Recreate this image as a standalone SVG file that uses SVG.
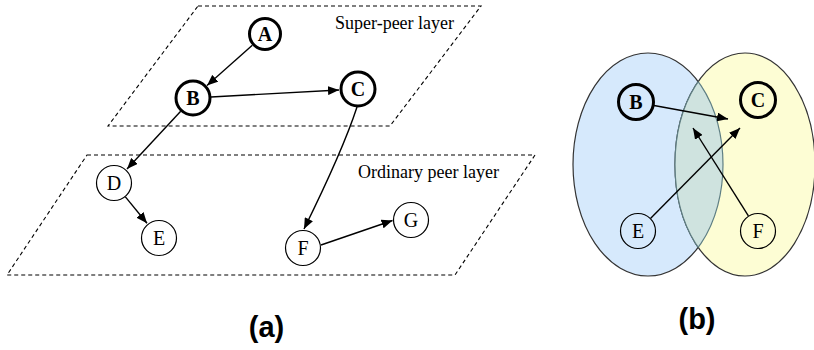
<svg xmlns="http://www.w3.org/2000/svg" width="814" height="350" viewBox="0 0 814 350">
  <style>
    .layer { fill: none; stroke: #000; stroke-width: 1.1; stroke-dasharray: 4 3; }
    .layer-label { font-family: "Liberation Serif", "Times New Roman", serif; font-size: 18px; fill: #000; }
    .super circle { fill: #fff; stroke: #000; stroke-width: 3; }
    .ordinary circle { fill: #fff; stroke: #000; stroke-width: 1.2; }
    .super text, .ordinary text { font-family: "Liberation Serif", "Times New Roman", serif; font-size: 20px; text-anchor: middle; fill: #000; }
    .super text { font-weight: bold; }
    .edge { fill: none; stroke: #000; stroke-width: 1.4; marker-end: url(#arrow); }
    .caption { font-family: "Liberation Sans", Arial, sans-serif; font-weight: bold; font-size: 29px; text-anchor: middle; fill: #000; }
    .venn-b circle { fill: #d6e9fc; }
    .venn-c circle { fill: #fdfdd4; }
  </style>
  <defs>
    <marker id="arrow" markerUnits="userSpaceOnUse" markerWidth="12" markerHeight="9" refX="11" refY="4.5" orient="auto">
      <path d="M0,0 L11,4.5 L0,9 z" fill="#000"/>
    </marker>
    <clipPath id="clip-right">
      <ellipse cx="745" cy="164.5" rx="70" ry="111.5"/>
    </clipPath>
    <clipPath id="clip-left">
      <ellipse cx="648" cy="164.5" rx="75" ry="111.5"/>
    </clipPath>
  </defs>

  <rect width="814" height="350" fill="#fff"/>

  <!-- (a) two peer layers -->
  <g id="super-peer-layer">
    <polygon class="layer" points="198,6 481,6 390,126 108,126"/>
    <text class="layer-label" x="335" y="29">Super-peer layer</text>
  </g>
  <g id="ordinary-peer-layer">
    <polygon class="layer" points="87,155 535,155 455,275 7,275"/>
    <text class="layer-label" x="358" y="178">Ordinary peer layer</text>
  </g>

  <!-- (b) overlapping clusters -->
  <g id="cluster-b">
    <ellipse cx="648" cy="164.5" rx="75" ry="111.5" fill="#d6e9fc" stroke="#333" stroke-width="1.2"/>
  </g>
  <g id="cluster-c">
    <ellipse cx="745" cy="164.5" rx="70" ry="111.5" fill="#fdfdd4" stroke="#333" stroke-width="1.2"/>
  </g>
  <g id="cluster-overlap">
    <ellipse cx="648" cy="164.5" rx="75" ry="111.5" fill="#cfe3df" stroke="#5f7f84" stroke-width="1.2" clip-path="url(#clip-right)"/>
    <ellipse cx="745" cy="164.5" rx="70" ry="111.5" fill="none" stroke="#5f7f84" stroke-width="1.2" clip-path="url(#clip-left)"/>
  </g>

  <g id="connectors">
    <!-- (a) -->
    <line class="edge" x1="252.3" y1="45.3" x2="207" y2="85.5"/>
    <line class="edge" x1="211" y1="97" x2="339" y2="90"/>
    <line class="edge" x1="180.7" y1="111.2" x2="127" y2="169"/>
    <path class="edge" d="M357,107 Q343,150 304,229"/>
    <line class="edge" x1="125.4" y1="196.9" x2="147" y2="223.3"/>
    <line class="edge" x1="321" y1="245" x2="392.5" y2="220.5"/>
    <!-- (b) -->
    <line class="edge" x1="654" y1="105.5" x2="728" y2="119"/>
    <line class="edge" x1="650.7" y1="218.2" x2="740" y2="128"/>
    <line class="edge" x1="748.4" y1="215.8" x2="693" y2="128"/>
  </g>

  <!-- (a) nodes -->
  <g id="node-a" class="super">
    <circle cx="265" cy="34" r="15.5"/>
    <text x="265" y="41">A</text>
  </g>
  <g id="node-b" class="super">
    <circle cx="193" cy="98" r="17"/>
    <text x="193" y="105">B</text>
  </g>
  <g id="node-c" class="super">
    <circle cx="358" cy="89" r="17"/>
    <text x="358" y="96">C</text>
  </g>
  <g id="node-d" class="ordinary">
    <circle cx="114" cy="183" r="17.5"/>
    <text x="114" y="190">D</text>
  </g>
  <g id="node-e" class="ordinary">
    <circle cx="159" cy="238" r="17.5"/>
    <text x="159" y="245">E</text>
  </g>
  <g id="node-f" class="ordinary">
    <circle cx="303" cy="248" r="17.5"/>
    <text x="303" y="255">F</text>
  </g>
  <g id="node-g" class="ordinary">
    <circle cx="411" cy="220" r="17.5"/>
    <text x="411" y="227">G</text>
  </g>

  <!-- (b) nodes -->
  <g id="venn-node-b" class="super venn-b">
    <circle cx="636" cy="102" r="17.5"/>
    <text x="636" y="109">B</text>
  </g>
  <g id="venn-node-c" class="super venn-c">
    <circle cx="758" cy="100" r="17.5"/>
    <text x="758" y="107">C</text>
  </g>
  <g id="venn-node-e" class="ordinary venn-b">
    <circle cx="638" cy="231" r="17.5"/>
    <text x="638" y="238">E</text>
  </g>
  <g id="venn-node-f" class="ordinary venn-c">
    <circle cx="758" cy="231" r="17.5"/>
    <text x="758" y="238">F</text>
  </g>

  <text class="caption" x="266.5" y="337">(a)</text>
  <text class="caption" x="697" y="329">(b)</text>
</svg>
